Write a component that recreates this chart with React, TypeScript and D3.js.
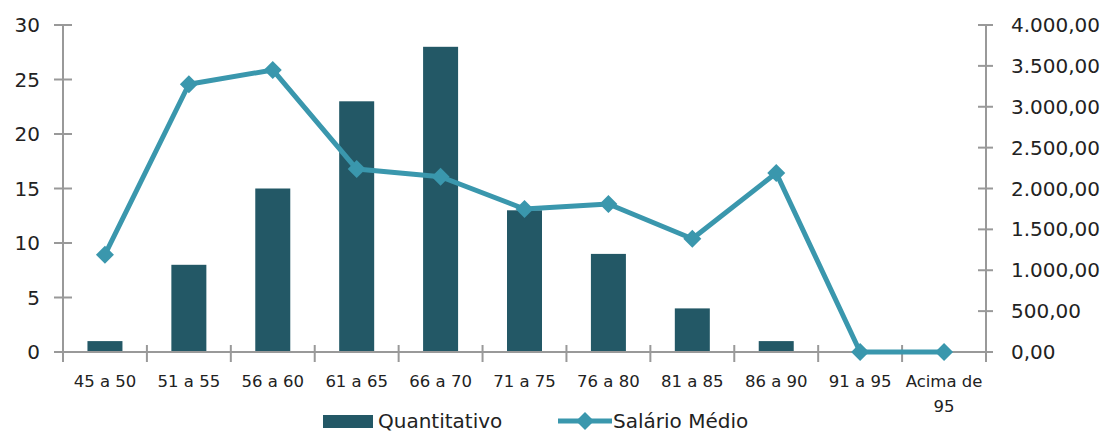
import React from "react";
import * as d3 from "d3";

const categories = ["45 a 50", "51 a 55", "56 a 60", "61 a 65", "66 a 70", "71 a 75", "76 a 80", "81 a 85", "86 a 90", "91 a 95", "Acima de\n95"];
const quantitativo = [1, 8, 15, 23, 28, 13, 9, 4, 1, 0, 0];
const salarioMedio = [1190, 3275, 3450, 2238, 2144, 1749, 1810, 1385, 2190, 0, 0];
const leftTicks = [0, 5, 10, 15, 20, 25, 30];
const rightTicks = [0, 500, 1000, 1500, 2000, 2500, 3000, 3500, 4000];
const seriesNames = ["Quantitativo", "Salário Médio"];

const W = 1113, H = 432;
const X0 = 63, X1 = 986, Y0 = 352, Y1 = 25;
const BAR = "#235866";
const LINE = "#3A97AD";
const AXIS = "#999999";
const TEXT = "#222222";
const FONT = "'DejaVu Sans', Verdana, sans-serif";

const fmt = (v: number) => {
  const s = v.toFixed(2).replace(".", ",");
  const [i, d] = s.split(",");
  return i.replace(/\B(?=(\d{3})+(?!\d))/g, ".") + "," + d;
};

export default function App() {
  const x = d3.scaleBand<string>().domain(categories).range([X0, X1]).padding(0);
  const yL = d3.scaleLinear().domain([0, 30]).range([Y0, Y1]);
  const yR = d3.scaleLinear().domain([0, 4000]).range([Y0, Y1]);
  const bw = 35;
  const cx = (c: string) => (x(c) as number) + x.bandwidth() / 2;
  const line = d3.line<number>().x((_, i) => cx(categories[i])).y((d) => yR(d));
  const diamond = (px: number, py: number, r: number) => `M${px},${py - r}L${px + r},${py}L${px},${py + r}L${px - r},${py}Z`;

  return (
    <svg width={W} height={H} style={{ position: "absolute", left: 0, top: 0, background: "#fff" }} fontFamily={FONT}>
      {quantitativo.map((v, i) => (
        <rect key={i} x={cx(categories[i]) - bw / 2} y={yL(v)} width={bw} height={Y0 - yL(v)} fill={BAR} />
      ))}
      <line x1={X0} x2={X0} y1={Y1} y2={Y0} stroke={AXIS} strokeWidth={2} />
      {leftTicks.map((t) => (
        <g key={t}>
          <line x1={X0 - 9} x2={X0 + 9} y1={yL(t)} y2={yL(t)} stroke={AXIS} strokeWidth={2} />
          <text x={40} y={yL(t)} dy="0.35em" textAnchor="end" fontSize={20} fill={TEXT}>{t}</text>
        </g>
      ))}
      <line x1={X1} x2={X1} y1={Y1} y2={Y0} stroke={AXIS} strokeWidth={2} />
      {rightTicks.map((t) => (
        <g key={t}>
          <line x1={X1 - 8} x2={X1 + 7} y1={yR(t)} y2={yR(t)} stroke={AXIS} strokeWidth={2} />
          <text x={1011} y={yR(t)} dy="0.35em" textAnchor="start" fontSize={20} fill={TEXT}>{fmt(t)}</text>
        </g>
      ))}
      <line x1={X0} x2={X1} y1={Y0} y2={Y0} stroke={AXIS} strokeWidth={2} />
      {categories.map((c, i) => (
        <line key={"t" + i} x1={x(c) as number} x2={x(c) as number} y1={Y0 - 7} y2={Y0 + 10} stroke={AXIS} strokeWidth={2} />
      ))}
      <line x1={X1} x2={X1} y1={Y0 - 7} y2={Y0 + 10} stroke={AXIS} strokeWidth={2} />
      {categories.map((c, i) => (
        <text key={"l" + i} x={cx(c)} y={387} textAnchor="middle" fontSize={16.5} fill={TEXT}>
          {c.split("\n").map((p, j) => (
            <tspan key={j} x={cx(c)} dy={j === 0 ? 0 : 25}>{p}</tspan>
          ))}
        </text>
      ))}
      <path d={line(salarioMedio) || ""} fill="none" stroke={LINE} strokeWidth={5} strokeLinejoin="round" />
      {salarioMedio.map((v, i) => (
        <path key={"m" + i} d={diamond(cx(categories[i]), yR(v), 9)} fill={LINE} />
      ))}
      <rect x={323} y={415} width={50} height={13} fill={BAR} />
      <text x={378} y={428} fontSize={20} fill={TEXT}>{seriesNames[0]}</text>
      <line x1={558} x2={612} y1={421} y2={421} stroke={LINE} strokeWidth={5} />
      <path d={diamond(585, 421, 9)} fill={LINE} />
      <text x={613} y={428} fontSize={20} fill={TEXT}>{seriesNames[1]}</text>
    </svg>
  );
}
